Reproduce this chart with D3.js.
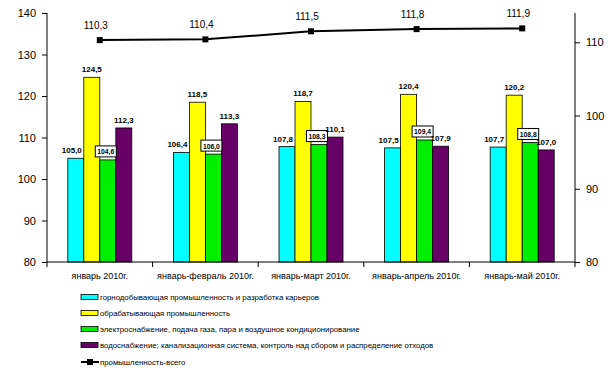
<!DOCTYPE html>
<html><head><meta charset="utf-8">
<script src="https://cdn.jsdelivr.net/npm/d3@7"></script>
<style>
html,body{margin:0;padding:0;background:#fff;}
svg{display:block;font-family:"Liberation Sans",Arial,sans-serif;}
</style></head>
<body>
<svg id="chart" width="615" height="384"></svg>
<script>
const categories = ["январь 2010г.", "январь-февраль 2010г.", "январь-март 2010г.", "январь-апрель 2010г.", "январь-май 2010г."];
const seriesNames = [
  "горнодобывающая промышленность и разработка карьеров",
  "обрабатывающая промышленность",
  "электроснабжение, подача газа, пара и воздушное кондиционирование",
  "водоснабжение; канализационная система, контроль над сбором и распределение отходов"
];
const mining = [105.0, 106.4, 107.8, 107.5, 107.7];
const manufacturing = [124.5, 118.5, 118.7, 120.4, 120.2];
const electricity = [104.6, 106.0, 108.3, 109.4, 108.8];
const water = [112.3, 113.3, 110.1, 107.9, 107.0];
const lineName = "промышленность-всего";
const industryTotal = [110.3, 110.4, 111.5, 111.8, 111.9];
const leftTicks = [80, 90, 100, 110, 120, 130, 140];
const rightTicks = [80, 90, 100, 110];
const colors = ["#00ffff", "#ffff00", "#00ee00", "#660066"];

const barSeries = [mining, manufacturing, electricity, water];
const svg = d3.select("#chart");
const fmt = v => d3.format(".1f")(v).replace(".", ",");

const x = d3.scaleBand().domain(categories).range([47, 575]).padding(0);
const groupW = 64;
const xi = d3.scaleBand().domain(d3.range(4)).range([0, groupW]).padding(0);
const yL = d3.scaleLinear().domain([80, 140]).range([262, 13]);
const yR = d3.scaleLinear().domain([80, 114]).range([262, 13]);

const barX = (ci, si) => x(categories[ci]) + (x.bandwidth() - groupW) / 2 + xi(si);

// bars
barSeries.forEach((vals, si) => {
  svg.append("g").selectAll("rect").data(vals).join("rect")
    .attr("x", (d, i) => barX(i, si))
    .attr("y", d => yL(d))
    .attr("width", xi.bandwidth())
    .attr("height", d => yL(80) - yL(d))
    .attr("fill", colors[si])
    .attr("stroke", "#000").attr("stroke-width", 0.8);
});

// axes
const axL = svg.append("g").attr("transform", "translate(47,0)")
  .call(d3.axisLeft(yL).tickValues(leftTicks).tickSize(5).tickPadding(6));
const axR = svg.append("g").attr("transform", "translate(575,0)")
  .call(d3.axisRight(yR).tickValues(rightTicks).tickSize(5).tickPadding(6));
[axL, axR].forEach(a => {
  a.select(".domain").attr("stroke", "#000");
  a.selectAll("text").attr("font-size", 11).attr("font-family", "Liberation Sans, Arial, sans-serif").attr("fill", "#000");
});
axL.select(".domain").attr("d", "M0,13V262");
axR.select(".domain").attr("d", "M0,13V262");

// x axis
const axX = svg.append("g").attr("transform", "translate(0,262)");
axX.append("line").attr("x1", 47).attr("x2", 575).attr("stroke", "#000");
const tickXs = categories.map(c => x(c)).concat([x(categories[categories.length - 1]) + x.bandwidth()]);
axX.selectAll("line.t").data(tickXs).join("line").attr("class", "t")
  .attr("x1", d => d).attr("x2", d => d).attr("y1", 0).attr("y2", 5).attr("stroke", "#000");
axX.selectAll("text").data(categories).join("text")
  .attr("x", d => x(d) + x.bandwidth() / 2).attr("y", 17)
  .attr("text-anchor", "middle").attr("font-size", 9).text(d => d);

// bar labels
barSeries.forEach((vals, si) => {
  const g = svg.append("g");
  vals.forEach((v, i) => {
    const cx = barX(i, si) + xi.bandwidth() / 2;
    if (si === 2) {
      const bx = cx - 2;
      g.append("rect").attr("x", bx - 10.5).attr("y", yL(v) - 14).attr("width", 21).attr("height", 11)
        .attr("fill", "#fff").attr("stroke", "#000").attr("stroke-width", 1);
      g.append("text").attr("x", bx).attr("y", yL(v) - 5.5).attr("text-anchor", "middle")
        .attr("font-size", 7.5).attr("font-weight", "bold")
        .attr("textLength", 17).attr("lengthAdjust", "spacingAndGlyphs").text(fmt(v));
    } else {
      g.append("text").attr("x", si === 0 ? cx - 4 : cx).attr("y", yL(v) - 5).attr("text-anchor", "middle")
        .attr("font-size", 8).attr("font-weight", "bold").text(fmt(v));
    }
  });
});

// line
const lx = (d, i) => x(categories[i]) + x.bandwidth() / 2;
svg.append("path").datum(industryTotal)
  .attr("d", d3.line().x(lx).y(d => yR(d)))
  .attr("fill", "none").attr("stroke", "#000").attr("stroke-width", 2);
svg.append("g").selectAll("rect").data(industryTotal).join("rect")
  .attr("x", (d, i) => lx(d, i) - 3).attr("y", d => yR(d) - 3)
  .attr("width", 6).attr("height", 6).attr("fill", "#000");
svg.append("g").selectAll("text").data(industryTotal).join("text")
  .attr("x", (d, i) => lx(d, i) - 4).attr("y", d => yR(d) - 11)
  .attr("text-anchor", "middle").attr("font-size", 10).text(d => fmt(d));

// legend
const legY = [297, 313, 329, 345, 362];
const leg = svg.append("g");
seriesNames.forEach((n, i) => {
  leg.append("rect").attr("x", 81).attr("y", legY[i] - 2.5).attr("width", 17).attr("height", 5)
    .attr("fill", colors[i]).attr("stroke", "#000").attr("stroke-width", 0.8);
  leg.append("text").attr("x", 100).attr("y", legY[i] + 3).attr("font-size", 7.8).text(n);
});
leg.append("line").attr("x1", 81).attr("x2", 99).attr("y1", legY[4]).attr("y2", legY[4])
  .attr("stroke", "#000").attr("stroke-width", 2);
leg.append("rect").attr("x", 87).attr("y", legY[4] - 3).attr("width", 6).attr("height", 6).attr("fill", "#000");
leg.append("text").attr("x", 100).attr("y", legY[4] + 3).attr("font-size", 7.8).text(lineName);
</script>
</body></html>
